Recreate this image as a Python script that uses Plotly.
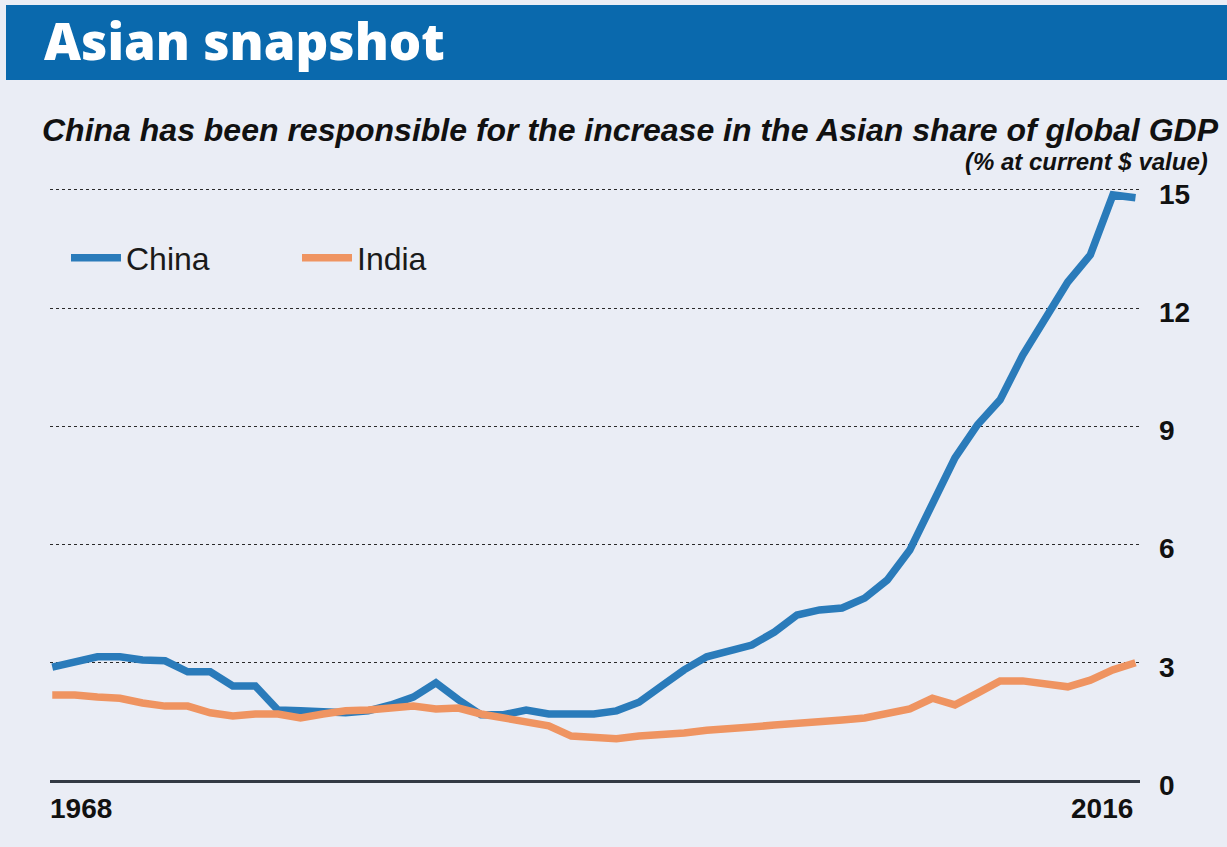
import plotly.graph_objects as go

years = list(range(1968, 2017))
china = [2.89, 3.00, 3.15, 3.15, 3.07, 3.05, 2.77, 2.77, 2.41, 2.41,
         1.80, 1.78, 1.75, 1.73, 1.78, 1.93, 2.13, 2.49, 2.06, 1.68,
         1.68, 1.80, 1.70, 1.68, 1.70, 1.78, 2.00, 2.41, 2.82, 3.15,
         3.32, 3.45, 3.78, 4.21, 4.34, 4.39, 4.64, 5.10, 5.86, 7.00,
         8.20, 9.04, 9.67, 10.80, 11.75, 12.66, 13.35, 14.87, 14.80]
india = [2.18, 2.18, 2.13, 2.10, 1.98, 1.90, 1.90, 1.73, 1.65, 1.70,
         1.70, 1.60, 1.70, 1.78, 1.80, 1.83, 1.90, 1.83, 1.85, 1.70,
         1.60, 1.52, 1.40, 1.14, 1.12, 1.07, 1.14, 1.17, 1.22, 1.29,
         1.35, 1.37, 1.42, 1.45, 1.50, 1.55, 1.60, 1.73, 1.83, 2.10,
         1.93, 2.23, 2.54, 2.54, 2.46, 2.39, 2.56, 2.82, 3.00]
y_ticks = [0, 3, 6, 9, 12, 15]
x_labels = [1968, 2016]

BG = "#eaedf5"
BLUE = "#2a7bba"
ORANGE = "#ef9461"
HEADER = "#0a69ad"
SANS = "Liberation Sans, Arial, sans-serif"

W, H = 1227, 847
ML, MR, MT, MB = 50, 87, 178, 66
PW, PH = W - ML - MR, H - MT - MB


def py(px):
    """pixel y (from top) -> paper y"""
    return (H - MB - px) / PH


def pxx(px):
    return (px - ML) / PW


fig = go.Figure()
fig.add_trace(go.Scatter(x=years, y=china, mode="lines", name="China",
                         line=dict(color=BLUE, width=7.5)))
fig.add_trace(go.Scatter(x=years, y=india, mode="lines", name="India",
                         line=dict(color=ORANGE, width=7.5)))

fig.update_layout(
    width=W, height=H,
    margin=dict(l=ML, r=MR, t=MT, b=MB),
    paper_bgcolor=BG, plot_bgcolor=BG,
    showlegend=True,
    legend=dict(orientation="h", x=pxx(66), y=py(258), xanchor="left", yanchor="middle",
                bgcolor="rgba(0,0,0,0)", itemwidth=50,
                entrywidth=166, entrywidthmode="pixels",
                font=dict(family=SANS, size=32, color="#1a1a1a")),
    xaxis=dict(range=[1967.9, 2016.2], showgrid=False, zeroline=False,
               showticklabels=False, showline=False, fixedrange=True),
    yaxis=dict(range=[0, 15.3], side="right", tickvals=y_ticks,
               showgrid=True, griddash="dot", gridcolor="#2a2a2a", gridwidth=1,
               zeroline=True, zerolinecolor="#333a44", zerolinewidth=2.5,
               ticklabelstandoff=18, ticklabelshift=4,
               tickfont=dict(family=SANS, size=28, color="#111111", weight="bold"),
               showline=False),
    shapes=[dict(type="rect", xref="paper", yref="paper",
                 x0=pxx(6), x1=pxx(1240), y0=py(80), y1=py(5),
                 fillcolor=HEADER, line=dict(width=0), layer="below")],
)

# Header title
fig.add_annotation(text="Asian snapshot", xref="paper", yref="paper",
                   x=pxx(42), y=py(40), xanchor="left", yanchor="middle",
                   showarrow=False,
                   font=dict(family="Open Sans, sans-serif", size=51, color="white", weight=800))
# Subtitle
fig.add_annotation(text="<i>China has been responsible for the increase in the Asian share of global GDP</i>",
                   xref="paper", yref="paper", x=pxx(40), y=py(130),
                   xanchor="left", yanchor="middle", showarrow=False,
                   font=dict(family=SANS, size=32, color="#111111", weight="bold"))
# Unit note
fig.add_annotation(text="<i>(% at current $ value)</i>",
                   xref="paper", yref="paper", x=pxx(1210), y=py(162),
                   xanchor="right", yanchor="middle", showarrow=False,
                   font=dict(family=SANS, size=24, color="#111111", weight="bold"))
# X labels at ends
fig.add_annotation(text=str(x_labels[0]), xref="x", yref="paper",
                   x=x_labels[0], y=0, yshift=-10, xanchor="left", yanchor="top",
                   xshift=-4, showarrow=False,
                   font=dict(family=SANS, size=28, color="#111111", weight="bold"))
fig.add_annotation(text=str(x_labels[1]), xref="x", yref="paper",
                   x=x_labels[1], y=0, yshift=-10, xanchor="right", yanchor="top",
                   showarrow=False,
                   font=dict(family=SANS, size=28, color="#111111", weight="bold"))

fig.write_html("out.html", config={"displayModeBar": False},
               post_script="document.body.style.margin='0';document.body.style.overflow='hidden';")
